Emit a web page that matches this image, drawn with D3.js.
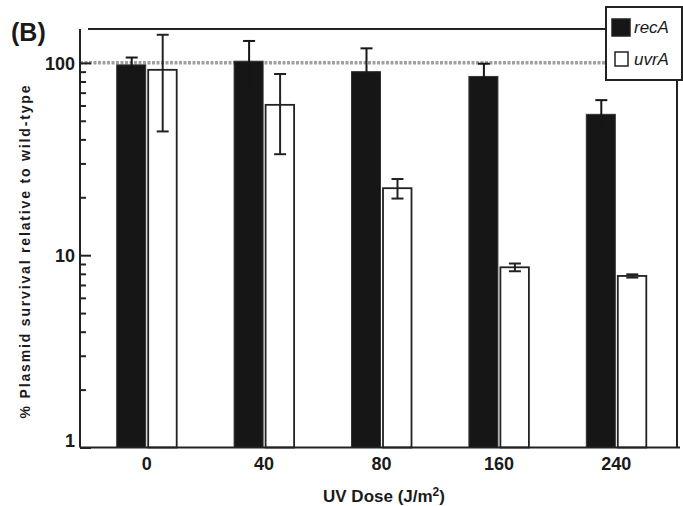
<!DOCTYPE html>
<html><head><meta charset="utf-8">
<script src="https://cdn.jsdelivr.net/npm/d3@7"></script>
<style>
body{margin:0;background:#fff;}
svg{display:block;}
text{font-family:"Liberation Sans",Arial,sans-serif;fill:#1a1a1a;}
</style></head>
<body><svg id="c" width="683" height="506"></svg>
<script>
const categories = ["0","40","80","160","240"];
const recA = [97.6, 102, 90, 85, 54];
const recAErr = [9, 28, 29, 14, 10];
const uvrA = [92, 60.5, 22.3, 8.65, 7.8];
const uvrAErr = [48, 27, 2.6, 0.4, 0.15];
const yTicks = [1, 10, 100];
const seriesNames = ["recA", "uvrA"];

const svg = d3.select("#c");
const L = 80, R = 677, T = 29, B = 447.5;
const x = d3.scaleBand().domain(categories).range([88, 675]).padding(0);
const y = d3.scaleLog().domain([1, 150]).range([B, T]);
const half = 30;

// reference dashed line at 100
svg.append("line").attr("x1", L).attr("x2", 606).attr("y1", y(100)).attr("y2", y(100))
  .attr("stroke", "#a0a0a0").attr("stroke-width", 3.5).attr("stroke-dasharray", "3,1.5");

// top line
svg.append("line").attr("x1", 88).attr("x2", 606).attr("y1", T).attr("y2", T)
  .attr("stroke", "#222").attr("stroke-width", 2);

const cx = d => x(d) + x.bandwidth() / 2;

// recA bars
svg.selectAll(".ra").data(categories).enter().append("rect")
  .attr("x", d => cx(d) - half).attr("width", half - 1)
  .attr("y", (d, i) => y(recA[i])).attr("height", (d, i) => B - y(recA[i]))
  .attr("fill", "#161616").attr("stroke", "#333").attr("stroke-width", 1);
// uvrA bars
svg.selectAll(".ua").data(categories).enter().append("rect")
  .attr("x", d => cx(d) + 1.5).attr("width", half - 1.5)
  .attr("y", (d, i) => y(uvrA[i])).attr("height", (d, i) => B - y(uvrA[i]))
  .attr("fill", "#fff").attr("stroke", "#222").attr("stroke-width", 1.8);

function errBars(vals, errs, offset, color) {
  const g = svg.append("g").attr("stroke", color).attr("stroke-width", 2);
  categories.forEach((c, i) => {
    const xc = cx(c) + offset;
    const hi = y(vals[i] + errs[i]), lo = y(Math.max(vals[i] - errs[i], 1.01));
    g.append("line").attr("x1", xc).attr("x2", xc).attr("y1", hi).attr("y2", lo);
    g.append("line").attr("x1", xc - 6).attr("x2", xc + 6).attr("y1", hi).attr("y2", hi);
    g.append("line").attr("x1", xc - 6).attr("x2", xc + 6).attr("y1", lo).attr("y2", lo);
  });
}
errBars(recA, recAErr, -15, "#161616");
errBars(uvrA, uvrAErr, 16, "#222");

// Y axis with inward ticks
const minor = [];
for (let dec = 1; dec <= 100; dec *= 10) for (let k = 2; k <= 9; k++) if (dec * k <= 150) minor.push(dec * k);
const yMinor = svg.append("g").attr("transform", `translate(${L},0)`)
  .call(d3.axisRight(y).tickValues(minor).tickSize(6).tickFormat(""));
yMinor.select(".domain").remove();
yMinor.selectAll("line").attr("stroke", "#222").attr("stroke-width", 2);
const yMajor = svg.append("g").attr("transform", `translate(${L},0)`)
  .call(d3.axisRight(y).tickValues(yTicks).tickSize(11).tickFormat(d3.format("d")));
yMajor.select(".domain").remove();
yMajor.selectAll("line").attr("stroke", "#222").attr("stroke-width", 2);
yMajor.selectAll("text").attr("x", -5).attr("text-anchor", "end")
  .style("font-size", "18px").style("font-weight", "bold")
  .attr("dy", d => d === 1 ? "-0.05em" : "0.35em");

// axes frame lines
svg.append("line").attr("x1", L).attr("x2", L).attr("y1", T).attr("y2", B).attr("stroke", "#222").attr("stroke-width", 2);
svg.append("line").attr("x1", L).attr("x2", 680).attr("y1", B).attr("y2", B).attr("stroke", "#222").attr("stroke-width", 2);
svg.append("line").attr("x1", R).attr("x2", R).attr("y1", 80).attr("y2", B).attr("stroke", "#222").attr("stroke-width", 2);

// X axis labels
const xa = svg.append("g").attr("transform", `translate(0,${B})`)
  .call(d3.axisBottom(x).tickSize(0).tickPadding(10));
xa.select(".domain").remove();
xa.selectAll("text").style("font-size", "18px").style("font-weight", "bold");

// axis titles
const xt = svg.append("text").attr("x", 384).attr("y", 502).attr("text-anchor", "middle")
  .style("font-size", "17px").style("font-weight", "bold");
xt.append("tspan").text("UV Dose (J/m");
xt.append("tspan").attr("dy", -6).style("font-size", "12px").text("2");
xt.append("tspan").attr("dy", 6).text(")");

svg.append("text").attr("transform", "translate(30,252) rotate(-90)").attr("text-anchor", "middle")
  .style("font-size", "14px").style("font-weight", "bold").attr("textLength", 333)
  .text("% Plasmid survival relative to wild-type");

svg.append("text").attr("x", 11).attr("y", 41).style("font-size", "25px").style("font-weight", "bold")
  .text("(B)");

// legend
const lg = svg.append("g");
lg.append("rect").attr("x", 606).attr("y", 7).attr("width", 76).attr("height", 73)
  .attr("fill", "#fff").attr("stroke", "#222").attr("stroke-width", 2);
const sw = [{x: 612, y: 19, w: 18, h: 17, f: "#161616"}, {x: 615, y: 52, w: 13, h: 14, f: "#fff"}];
seriesNames.forEach((s, i) => {
  lg.append("rect").attr("x", sw[i].x).attr("y", sw[i].y).attr("width", sw[i].w).attr("height", sw[i].h)
    .attr("fill", sw[i].f).attr("stroke", "#222").attr("stroke-width", 1.5);
  lg.append("text").attr("x", 634).attr("y", i === 0 ? 33 : 65)
    .style("font-size", "17px").style("font-style", "italic").text(s);
});
</script></body></html>
